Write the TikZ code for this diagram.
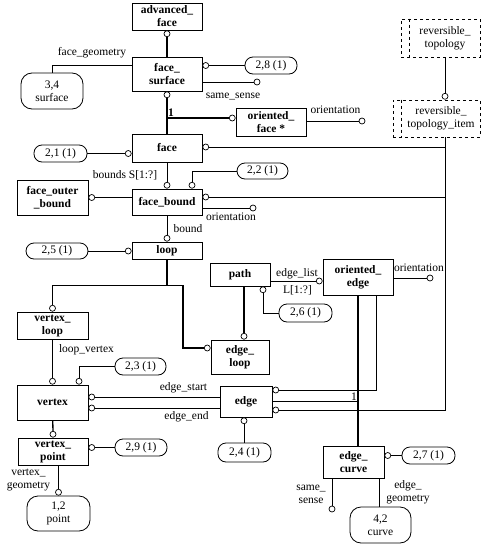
\documentclass[tikz,border=0pt]{standalone}
\usepackage{fontspec}
\setmainfont{Liberation Serif}
\usetikzlibrary{positioning,calc}
\begin{document}
\begin{tikzpicture}[x=1pt,y=-1pt,
  every node/.style={font=\fontsize{11.5}{13}\selectfont},
  sz/.style 2 args={minimum width=#1pt, minimum height=#2pt},
  ent/.style={draw, line width=0.8pt, inner sep=0pt, align=center, font=\fontsize{11.5}{13}\selectfont\bfseries},
  pill/.style={draw, line width=0.8pt, rounded corners=8pt, inner sep=0pt, align=center},
  dt/.style={draw, line width=0.8pt, rounded corners=11pt, inner sep=0pt, align=center},
  sel/.style={draw, dashed, line width=0.7pt, inner sep=0pt, align=center},
  oc/.style={draw, circle, fill=white, minimum size=6pt, inner sep=0pt, line width=0.7pt},
  attr/.style={line width=0.7pt},
  sub/.style={line width=1.3pt},
  lab/.style={inner sep=1pt, align=center},
]
\useasboundingbox (0,0) rectangle (484,549);

% entities and types
\node[ent, sz={70}{27}] (af) at (167,16.5) {advanced\_\\face};
\node[ent, sz={70}{34}] (fs) at (167,74) {face\_\\surface};
\node[dt, sz={62}{36}] (s34) at (52,91) {3,4\\surface};
\node[pill, sz={52}{17}] (b28) at (271,65.5) {2,8 (1)};
\node[ent, sz={70}{28}] (of) at (271,122) {oriented\_\\face *};
\node[sel, sz={79}{38}] (rt) at (440.5,38) {\hspace*{9pt}reversible\_\\\hspace*{9pt}topology};
\node[sel, sz={87}{37}] (rti) at (436.5,118.5) {\hspace*{9pt}reversible\_\\\hspace*{9pt}topology\_item};
\draw[dashed, line width=0.7pt] ([xshift=9pt]rt.north west) -- ([xshift=9pt]rt.south west);
\draw[dashed, line width=0.7pt] ([xshift=9pt]rti.north west) -- ([xshift=9pt]rti.south west);
\node[ent, sz={70}{28}] (face) at (167,148) {face};
\node[pill, sz={53}{17}] (b21) at (60.5,153.5) {2,1 (1)};
\node[ent, sz={70}{26}] (fb) at (167,202) {face\_bound};
\node[ent, sz={71}{35}] (fob) at (52.5,197.5) {face\_outer\\\_bound};
\node[pill, sz={51}{16}] (b22) at (262.5,171) {2,2 (1)};
\node[ent, sz={70}{17}] (loop) at (167,250.5) {loop};
\node[pill, sz={62}{16}] (b25) at (57,251) {2,5 (1)};
\node[ent, sz={60}{23}] (path) at (240,274.5) {path};
\node[ent, sz={70}{36}] (oe) at (358,277) {oriented\_\\edge};
\node[pill, sz={53}{18}] (b26) at (305.5,313) {2,6 (1)};
\node[ent, sz={71}{27}] (vl) at (52.5,325.5) {vertex\_\\loop};
\node[ent, sz={58}{34}] (el) at (240,357) {edge\_\\loop};
\node[ent, sz={71}{35}] (vx) at (52.5,402.5) {vertex};
\node[pill, sz={51}{17}] (b23) at (140.5,366.5) {2,3 (1)};
\node[ent, sz={52}{31}] (edge) at (246,401.5) {edge};
\node[pill, sz={53}{19}] (b24) at (244.5,452.5) {2,4 (1)};
\node[ent, sz={70}{27}] (vp) at (53,451.5) {vertex\_\\point};
\node[pill, sz={52}{17}] (b29) at (141,447.5) {2,9 (1)};
\node[dt, sz={63}{35}] (p12) at (58.5,513.5) {1,2\\point};
\node[ent, sz={61}{32}] (ec) at (353.5,462) {edge\_\\curve};
\node[pill, sz={53}{17}] (b27) at (428.5,455.5) {2,7 (1)};
\node[dt, sz={61}{36}] (c42) at (380.5,525) {4,2\\curve};

% advanced_face -> face_surface
\node[oc, below=0pt of af] (o1) {};
\draw[sub] (o1) -- (fs);
% face_surface -> 2,8
\node[oc, anchor=west] (o2) at (fs.east |- b28) {};
\draw[attr] (o2) -- (b28);
% same_sense
\node[oc] (o3) at (257,82) {};
\draw[attr] (fs.east |- o3) -- (o3);
\node[lab] at (233,97) {same\_sense};
% face_geometry
\draw[attr] ([yshift=9pt]fs.west) -| (s34.north);
\node[lab] at (92,53) {face\_geometry};
% face_surface / oriented_face -> face
\node[oc, below=0pt of fs] (o4) {};
\node[oc, anchor=east] (o5) at ([yshift=4pt]of.west) {};
\draw[sub] (o4) -- (face);
\draw[sub] (o4 |- o5) -- (o5);
\node[lab, anchor=south west, font=\fontsize{11.5}{13}\selectfont\bfseries] at (o4 |- o5) {1};
% oriented_face orientation
\node[oc] (o6) at (362,121) {};
\draw[attr] (of.east |- o6) -- (o6);
\node[lab] at (335.5,110) {orientation};
% reversible_topology -> item
\node[oc, anchor=south] (o7) at ([xshift=8.5pt]rti.north) {};
\draw[attr] (o7) -- (o7 |- rt.south);
% select lines
\coordinate (rb) at ([xshift=8.5pt]rti.south);
\node[oc, anchor=west] (o8) at ([yshift=1pt]face.east) {};
\node[oc, anchor=west] (o9) at ([yshift=5pt]fb.east) {};
\node[oc, anchor=west] (o10) at ([yshift=-8.5pt]edge.east) {};
\draw[attr] (o10) -| (rb);
\draw[attr] (o8) -- (o8 -| rb);
\draw[attr] (o9) -- (o9 -| rb);
% 2,1 -> face
\node[oc, anchor=east] (o11) at (face.west |- b21) {};
\draw[attr] (b21) -- (o11);
% face -> face_bound
\node[oc, above=0pt of fb] (o12) {};
\draw[attr] (face) -- (o12);
\node[lab] at (125,175) {bounds S[1:?]};
% face_bound -> 2,2
\node[oc, anchor=south] (o13) at ([xshift=25pt]fb.north) {};
\draw[attr] (o13) |- (b22);
% face_outer_bound -> face_bound
\node[oc, anchor=west] (o14) at (fob.east) {};
\draw[sub] (o14) -- (o14 -| fb.west);
% face_bound orientation
\node[oc] (o15) at (253,208) {};
\draw[attr] (fb.east |- o15) -- (o15);
\node[lab] at (231,217) {orientation};
% face_bound -> loop
\node[oc, above=0pt of loop] (o16) {};
\draw[attr] (fb) -- (o16);
\node[lab] at (188,229) {bound};
% 2,5 -> loop
\node[oc, anchor=east] (o17) at (loop.west |- b25) {};
\draw[attr] (b25) -- (o17);
% loop subtypes
\node[oc, above=0pt of vl] (o18) {};
\node[oc, anchor=east] (o19) at ([yshift=9pt]el.west) {};
\coordinate (lj) at ([yshift=-26pt]loop.south);
\draw[sub] (loop) -- (lj);
\draw[sub] (o18) |- ([xshift=16pt]lj) |- (o19);
% path -> edge_loop
\node[oc, anchor=south] (o20) at ([xshift=4pt]el.north) {};
\draw[sub] (o20) -- (o20 |- path.south);
% path -> 2,6
\node[oc, anchor=north] (o21) at ([xshift=23pt]path.south) {};
\draw[attr] (o21) |- (b26);
% path edge_list -> oriented_edge
\node[oc, anchor=east] (o22) at ([yshift=-4pt]oe.west) {};
\draw[attr] (o22 -| path.east) -- (o22);
\node[lab] at (297,274) {edge\_list};
\node[lab] at (297.5,290) {L[1:?]};
% oriented_edge orientation
\node[oc] (o23) at (430,278) {};
\draw[attr] (oe.east |- o23) -- (o23);
\node[lab] at (419,268) {orientation};
% vertex_loop -> vertex
\node[oc, above=0pt of vx] (o24) {};
\draw[attr] (vl) -- (o24);
\node[lab] at (86.5,350) {loop\_vertex};
% vertex -> 2,3
\node[oc, anchor=south] (o25) at ([xshift=26.5pt]vx.north) {};
\draw[attr] (o25) |- (b23);
% vertex -> edge
\node[oc, anchor=west] (o26) at ([yshift=5.5pt]vx.east) {};
\node[oc, anchor=west] (o27) at ([yshift=-5.5pt]vx.east) {};
\draw[attr] (o26) -- (o26 -| edge.west);
\draw[attr] (o27) -- (o27 -| edge.west);
\node[lab] at (183.5,388) {edge\_start};
\node[lab] at (186.5,416.5) {edge\_end};
% edge -> oriented_edge (edge_element)
\node[oc, anchor=west] (o28) at ([yshift=11.5pt]edge.east) {};
\draw[attr] (o28) -| ([xshift=18pt]oe.south);
% subtypes of edge
\draw[sub] (oe.south) -- (oe.south |- ec.north);
\draw[sub] (edge.east) -- (edge.east -| oe.south);
\node[lab, anchor=south east] at (edge.east -| oe.south) {1};
% edge -> 2,4
\node[oc, anchor=north] (o29) at ([xshift=-2pt]edge.south) {};
\draw[attr] (o29) -- (o29 |- b24.north);
% vertex -> vertex_point
\node[oc, above=0pt of vp] (o30) {};
\draw[sub] (vx) -- (o30);
% vertex_point -> 2,9
\node[oc, anchor=west] (o31) at (vp.east |- b29) {};
\draw[attr] (o31) -- (b29);
% vertex_point -> point
\node[oc, above=0pt of p12] (o32) {};
\draw[attr] (o32) -- (o32 |- vp.south);
\node[lab] at (28.5,480) {vertex\_\\geometry};
% edge_curve -> 2,7
\node[oc, anchor=west] (o33) at (ec.east |- b27) {};
\draw[attr] (o33) -- (b27);
% edge_curve same_sense
\node[oc] (o34) at (332,509) {};
\draw[attr] (o34) -- (o34 |- ec.south);
\node[lab] at (311,494) {same\_\\sense};
% edge_curve -> curve
\draw[attr] ([xshift=25.5pt]ec.south) -- ([xshift=25.5pt]ec.south |- c42.north);
\node[lab] at (408,492) {edge\_\\geometry};
\end{tikzpicture}
\end{document}
